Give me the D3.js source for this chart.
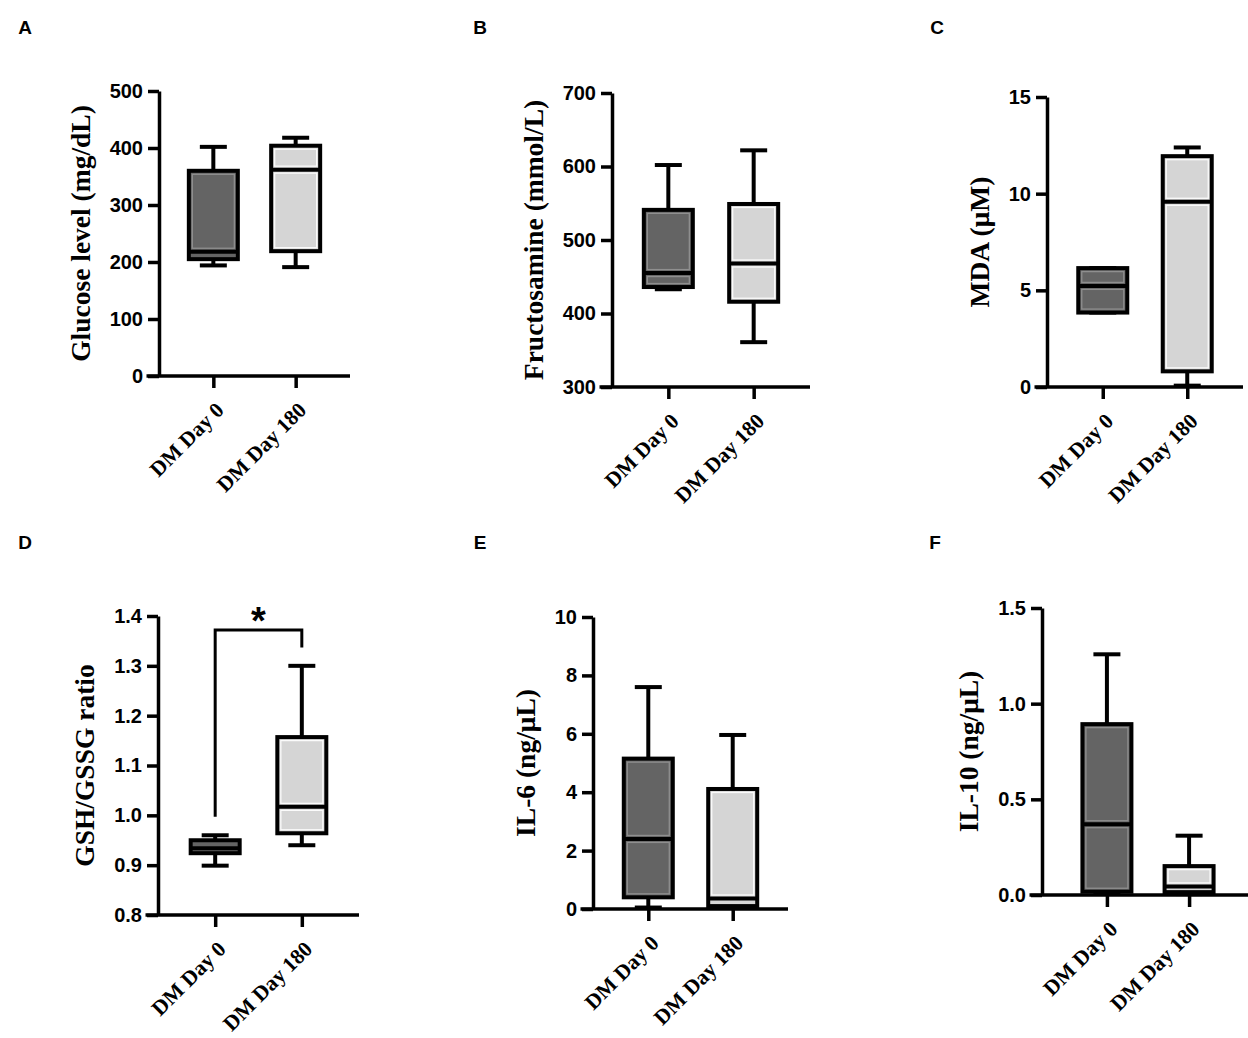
<!DOCTYPE html>
<html>
<head>
<meta charset="utf-8">
<title>Box plots DM Day 0 vs Day 180</title>
<script src="https://d3js.org/d3.v7.min.js"></script>
<style>
  body { margin: 0; background: #fff; }
  .tick text { font-family: "Liberation Sans", Arial, sans-serif; font-weight: bold; font-size: 20px; fill: #000; }
  .xlab text { font-family: "Liberation Serif", "Times New Roman", serif; font-size: 21.5px; }
  .ytitle { font-family: "Liberation Serif", "Times New Roman", serif; font-weight: bold; font-size: 27.5px; }
  .plabel { font-family: "Liberation Sans", Arial, sans-serif; font-weight: bold; font-size: 19px; }
</style>
</head>
<body>
<svg width="1248" height="1038"></svg>
<script>
// groups on the x axis
const groups = ["DM Day 0", "DM Day 180"];

// each row: [min, Q1, median, Q3, max]
const glucose      = [[194, 205, 218, 360, 402], [191, 219, 362, 404, 418]];
const fructosamine = [[433, 436, 455, 541, 602], [361, 416, 468, 549, 622]];
const mda          = [[3.85, 3.85, 5.23, 6.15, 6.15], [0.07, 0.81, 9.58, 11.94, 12.39]];
const gshRatio     = [[0.899, 0.924, 0.934, 0.95, 0.96], [0.94, 0.964, 1.017, 1.157, 1.30]];
const il6          = [[0.05, 0.40, 2.40, 5.15, 7.60], [0.05, 0.10, 0.36, 4.11, 5.96]];
const il10         = [[0.01, 0.017, 0.37, 0.893, 1.258], [0.005, 0.015, 0.045, 0.151, 0.31]];

// y tick values
const glucoseTicks      = [0, 100, 200, 300, 400, 500];
const fructosamineTicks = [300, 400, 500, 600, 700];
const mdaTicks          = [0, 5, 10, 15];
const gshTicks          = [0.8, 0.9, 1.0, 1.1, 1.2, 1.3, 1.4];
const il6Ticks          = [0, 2, 4, 6, 8, 10];
const il10Ticks         = [0, 0.5, 1.0, 1.5];

// significance bracket for GSH/GSSG: [left leg end, bar level, right leg end]
const gshBracket = [0.997, 1.372, 1.337];
const gshMark = "*";

const fills = ["#646464", "#d5d5d5"];
const innerLines = ["#8f8f8f", "#fbfbfb"];

// layout: label, y-axis x, top, bottom, x range width, point padding
const panels = [
  {label: "A", lx: 25,  ly: 34,  x0: 159,  top: 91,  bottom: 376, w: 191, pad: 0.66, data: glucose, ticks: glucoseTicks, fmt: "d", title: "Glucose level (mg/dL)"},
  {label: "B", lx: 480, ly: 34,  x0: 612,  top: 93,  bottom: 387, w: 198, pad: 0.66, data: fructosamine, ticks: fructosamineTicks, fmt: "d", title: "Fructosamine (mmol/L)"},
  {label: "C", lx: 937, ly: 34,  x0: 1047, top: 97,  bottom: 387, w: 196, pad: 0.66, data: mda, ticks: mdaTicks, fmt: "d", title: "MDA (μM)"},
  {label: "D", lx: 25,  ly: 549, x0: 158,  top: 616, bottom: 915, w: 201, pad: 0.66, data: gshRatio, ticks: gshTicks, fmt: ".1f", title: "GSH/GSSG ratio", bracket: gshBracket, mark: gshMark},
  {label: "E", lx: 480, ly: 549, x0: 593,  top: 617, bottom: 909, w: 195, pad: 0.655, data: il6, ticks: il6Ticks, fmt: "d", title: "IL-6 (ng/μL)"},
  {label: "F", lx: 935, ly: 549, x0: 1042, top: 608, bottom: 895, w: 212, pad: 0.79, data: il10, ticks: il10Ticks, fmt: ".1f", title: "IL-10 (ng/μL)"}
];

const svg = d3.select("svg");
const boxW = 49, capW = 27;

panels.forEach(p => {
  svg.append("text").attr("class", "plabel")
    .attr("x", p.lx).attr("y", p.ly).attr("text-anchor", "middle").text(p.label);

  const g = svg.append("g").attr("transform", `translate(${p.x0},0)`);

  const y = d3.scaleLinear()
    .domain([p.ticks[0], p.ticks[p.ticks.length - 1]])
    .range([p.bottom, p.top]);
  const x = d3.scalePoint().domain(groups).range([0, p.w]).padding(p.pad);

  // y axis
  const ya = g.append("g")
    .call(d3.axisLeft(y).tickValues(p.ticks).tickFormat(d3.format(p.fmt))
      .tickSize(11).tickSizeOuter(0).tickPadding(5));
  ya.select(".domain").attr("stroke-width", 3.5);
  ya.selectAll(".tick line").attr("stroke-width", 3.5);

  // x axis
  const xa = g.append("g").attr("transform", `translate(0,${p.bottom})`)
    .call(d3.axisBottom(x).tickSize(12).tickSizeOuter(0));
  xa.select(".domain").remove();
  xa.append("line").attr("x1", -12.5).attr("x2", p.w).attr("stroke", "#000").attr("stroke-width", 3.5);
  xa.selectAll(".tick line").attr("stroke-width", 3.5);
  xa.attr("class", "xlab");
  xa.selectAll(".tick text")
    .attr("x", 0).attr("y", 0).attr("dy", "0.35em")
    .attr("text-anchor", "end")
    .attr("font-weight", "bold")
    .attr("transform", "translate(6,30) rotate(-45)");

  // y title, placed left of the tick labels
  const bb = ya.node().getBBox();
  g.append("text").attr("class", "ytitle")
    .attr("transform", `translate(${bb.x - 28},${(p.top + p.bottom) / 2}) rotate(-90)`)
    .attr("text-anchor", "middle").attr("dy", "0.3em")
    .text(p.title);

  // boxes
  p.data.forEach((s, i) => {
    const cx = x(groups[i]);
    const [mn, q1, med, q3, mx] = s;
    const bg = g.append("g");

    // whiskers
    [[q3, mx], [q1, mn]].forEach(([a, b]) => {
      bg.append("line").attr("x1", cx).attr("x2", cx).attr("y1", y(a)).attr("y2", y(b))
        .attr("stroke", "#000").attr("stroke-width", 4);
      bg.append("line").attr("x1", cx - capW / 2).attr("x2", cx + capW / 2).attr("y1", y(b)).attr("y2", y(b))
        .attr("stroke", "#000").attr("stroke-width", 4);
    });

    // box segments with the light inner rim
    [[q1, med], [med, q3]].forEach(([lo, hi]) => {
      const yt = y(hi), yb = y(lo);
      bg.append("rect").attr("x", cx - boxW / 2).attr("y", yt).attr("width", boxW).attr("height", yb - yt)
        .attr("fill", fills[i]);
      if (yb - yt > 9) {
        bg.append("rect").attr("x", cx - boxW / 2 + 3.5).attr("y", yt + 3.5)
          .attr("width", boxW - 7).attr("height", yb - yt - 7)
          .attr("fill", "none").attr("stroke", innerLines[i]).attr("stroke-width", 1.3);
      }
    });
    bg.append("rect").attr("x", cx - boxW / 2).attr("y", y(q3)).attr("width", boxW).attr("height", y(q1) - y(q3))
      .attr("fill", "none").attr("stroke", "#000").attr("stroke-width", 4);
    bg.append("line").attr("x1", cx - boxW / 2).attr("x2", cx + boxW / 2).attr("y1", y(med)).attr("y2", y(med))
      .attr("stroke", "#000").attr("stroke-width", 4);
  });

  // significance bracket
  if (p.bracket) {
    const [l, top, r] = p.bracket;
    const x1 = x(groups[0]), x2 = x(groups[1]);
    g.append("path")
      .attr("d", `M${x1},${y(l)}V${y(top)}H${x2}V${y(r)}`)
      .attr("fill", "none").attr("stroke", "#000").attr("stroke-width", 3);
    g.append("text")
      .attr("x", (x1 + x2) / 2).attr("y", y(top) + 4)
      .attr("text-anchor", "middle")
      .attr("font-family", "Liberation Sans, Arial, sans-serif")
      .attr("font-weight", "bold").attr("font-size", 38)
      .text(p.mark);
  }
});
</script>
</body>
</html>
